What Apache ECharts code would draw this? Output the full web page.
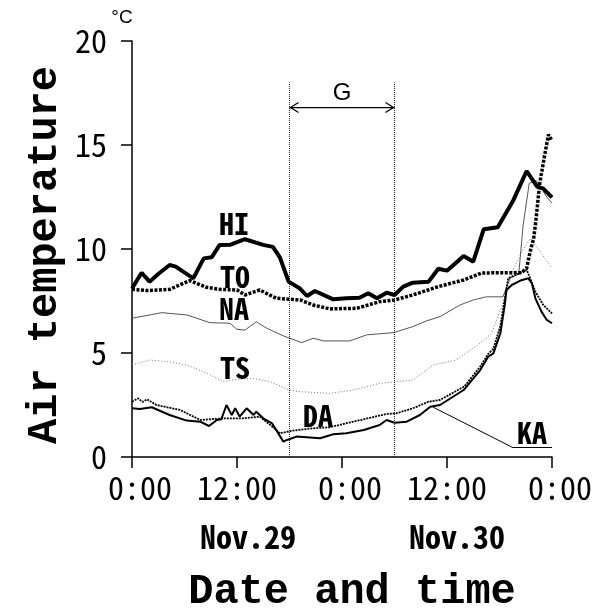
<!DOCTYPE html>
<html>
<head>
<meta charset="utf-8">
<title>Air temperature</title>
<script src="https://cdn.jsdelivr.net/npm/echarts@6/dist/echarts.min.js"></script>
<style>
  html, body { margin: 0; padding: 0; background: #fff; }
  #chart { width: 599px; height: 611px; }
</style>
</head>
<body>
<div id="chart"></div>
<script>
// hours from Nov.29 0:00
var hourTicks = [0, 12, 24, 36, 48];
var tickLabels = [' 0:00', '12:00', ' 0:00', '12:00', ' 0:00'];
var dayLabels = ['Nov.29', 'Nov.30'];
var gPeriod = [18, 30];

// [hour, degC]
var hi = [[0,8.1],[1.1,8.86],[2,8.43],[3,8.8],[4.3,9.23],[5,9.15],[7,8.59],[8.2,9.55],[9.1,9.6],[10,10.19],
  [11.2,10.2],[12.9,10.47],[15,10.2],[16.1,10.1],[16.9,9.6],[17.9,8.43],[19.2,8.1],[20,7.74],[20.9,7.98],
  [23,7.58],[24.5,7.63],[26,7.66],[27,7.87],[28,7.63],[29.1,7.9],[30,7.79],[31,8.19],[32.1,8.38],[33.9,8.43],
  [35,9.05],[36,8.96],[37.9,9.66],[39,9.39],[40.2,10.95],[41.8,11.05],[43.6,12.36],[45.1,13.75],[46.3,13.0],
  [47,12.9],[48,12.48]];
var to = [[0,8.06],[1.7,8.0],[4.3,8.06],[6.6,8.48],[8.5,8.16],[10,8.06],[12,8.03],[12.9,7.79],[14.6,8.03],
  [16.5,7.63],[19.2,7.55],[20.7,7.31],[22.6,7.12],[25.7,7.15],[28.3,7.47],[30,7.55],[32.1,7.79],[35,8.19],
  [37.9,8.51],[40,8.85],[44.5,8.86],[45.1,9.07],[45.5,9.87],[45.9,10.5],[46.1,11.15],[46.6,13.16],[47.2,14.6],
  [47.6,15.5],[48,15.2]];
var na = [[0,6.67],[3.4,6.94],[6.25,6.83],[8.9,6.46],[11.2,6.43],[12,6.14],[12.9,6.1],[14.2,6.5],[15.4,6.19],
  [17.3,5.82],[19.4,5.5],[20.7,5.71],[21.9,5.58],[24.9,5.58],[26.8,5.87],[29.9,5.98],[32.1,6.27],[33.7,6.55],
  [35.2,6.75],[37.5,7.31],[39,7.55],[40.5,7.7],[42.4,7.7],[43.2,8.6],[44.2,8.8],[44.7,11.15],[45.4,13.16],
  [46.2,13.3],[47.4,12.5],[48,12.2]];
var ts = [[0,4.42],[2,4.66],[4.3,4.58],[6.25,4.42],[8.2,4.1],[10.5,3.62],[11.8,3.73],[13.9,3.78],[15.8,3.62],
  [18,3.22],[19.2,3.14],[22.6,3.06],[25.3,3.22],[28.3,3.54],[30.2,3.62],[32.1,3.7],[34.4,4.42],[37,4.66],
  [39.8,5.47],[41.1,5.95],[42.5,7.5],[43.6,9.05],[44.5,9.8],[45.5,10.5],[46.6,9.9],[48,9.07]];
var da = [[0,2.66],[0.7,2.82],[1.2,2.65],[1.7,2.77],[2.8,2.5],[5.5,2.26],[7.8,1.78],[10.5,1.86],[12.7,1.86],
  [14.6,1.94],[16.5,1.3],[16.9,1.14],[18.4,1.27],[20.7,1.38],[22.6,1.43],[25.3,1.7],[29.1,2.07],[30.2,2.1],
  [32.1,2.34],[33.9,2.66],[35.2,2.74],[38,3.4],[39.8,4.35],[40.7,4.95],[41.3,5.2],[42.1,6.3],[42.6,7.6],
  [43,8.6],[44.3,8.83],[45.1,9.0],[45.5,8.6],[46.1,7.95],[47,7.31],[48,6.9]];
var ka = [[0,2.34],[0.9,2.31],[2.25,2.39],[4.3,2.02],[6.25,1.75],[7.8,1.7],[8.8,1.49],[9.7,1.78],[10.2,1.81],
  [10.8,2.5],[11.4,2.02],[11.8,2.34],[12.3,1.94],[13.1,2.34],[13.9,2.02],[14.2,2.18],[15,1.86],[16,1.62],
  [17.3,0.74],[17.7,0.82],[18.8,0.98],[21.5,0.9],[23,1.09],[24.5,1.14],[26.5,1.3],[28.3,1.54],[29.1,1.78],
  [30,1.65],[31.4,1.7],[32.9,2.02],[34.1,2.42],[35.2,2.5],[37.9,3.22],[39.8,4.18],[40.7,4.82],[41.3,4.98],
  [42.1,5.95],[42.6,7.31],[42.8,8.03],[43.4,8.27],[44.5,8.5],[45.3,8.59],[45.7,8.35],[46.1,7.63],[46.8,6.99],
  [47.4,6.59],[48,6.43]];

var MONO = "'Liberation Mono', 'DejaVu Sans Mono', monospace";
var NARROW = "'Noto Sans Mono CJK JP', 'Liberation Mono', monospace";

var chart = echarts.init(document.getElementById('chart'));

function line(name, data, width, type, color, z) {
    return {
        name: name, type: 'line', data: data, symbol: 'none', z: z,
        lineStyle: { width: width, type: type, color: color }
    };
}

var kaSeries = line('KA', ka, 2, 'solid', '#000', 5);
// leader line from KA label to the curve
kaSeries.markLine = {
    silent: true, symbol: 'none', label: { show: false },
    lineStyle: { color: '#000', width: 1, type: 'solid' },
    data: [
        [{ coord: [34.4, 2.4] }, { coord: [43.4, 0.48] }],
        [{ coord: [43.4, 0.48] }, { coord: [48, 0.48] }]
    ]
};
var tsSeries = line('TS', ts, 1, [1, 2], '#777', 2);
tsSeries.markLine = {
    silent: true, symbol: 'none', label: { show: false },
    lineStyle: { color: '#222', width: 1, type: [1, 1] },
    data: [
        [{ coord: [gPeriod[0], 0] }, { coord: [gPeriod[0], 18] }],
        [{ coord: [gPeriod[1], 0] }, { coord: [gPeriod[1], 18] }]
    ]
};

var option = {
    animation: false,
    backgroundColor: '#fff',
    grid: { left: 132, right: 47, top: 41, bottom: 154 },
    xAxis: {
        type: 'value', min: 0, max: 48, interval: 12,
        axisLine: { lineStyle: { color: '#000', width: 1.5 } },
        axisTick: { length: 11, lineStyle: { color: '#000', width: 1.5 } },
        splitLine: { show: false },
        axisLabel: {
            margin: 15, color: '#000', fontFamily: NARROW, fontSize: 32,
            formatter: function (v) { return tickLabels[hourTicks.indexOf(v)]; }
        }
    },
    yAxis: {
        type: 'value', min: 0, max: 20, interval: 5, offset: 8,
        axisLine: { show: true, lineStyle: { color: '#000', width: 1.5 } },
        axisTick: { show: true, length: 11, lineStyle: { color: '#000', width: 1.5 } },
        splitLine: { show: false },
        axisLabel: { margin: 17, color: '#000', fontFamily: NARROW, fontSize: 32 }
    },
    series: [
        tsSeries,
        line('NA', na, 1, 'solid', '#555', 3),
        line('DA', da, 1.8, [2, 1], '#000', 4),
        kaSeries,
        line('TO', to, 3.5, [3, 1.5], '#000', 6),
        line('HI', hi, 4, 'solid', '#000', 7)
    ]
};
chart.setOption(option);

// annotations placed in data coordinates
function px(h, v) { return chart.convertToPixel({ gridIndex: 0 }, [h, v]); }
function label(text, h, v) {
    var p = px(h, v);
    return {
        type: 'text', x: p[0], y: p[1], z: 20,
        style: { text: text, fill: '#000', font: 'bold 30px ' + NARROW, align: 'center', verticalAlign: 'middle' }
    };
}

var a = px(gPeriod[0], 16.8), b = px(gPeriod[1], 16.8);
var graphics = [
    label('HI', 11.66, 11.2),
    label('TO', 11.77, 8.65),
    label('NA', 11.66, 7.12),
    label('TS', 11.77, 4.28),
    label('DA', 21.26, 1.97),
    label('KA', 45.7, 1.15),
    { type: 'line', shape: { x1: a[0], y1: a[1], x2: b[0], y2: b[1] }, style: { stroke: '#000', lineWidth: 1.2 } },
    { type: 'polyline', shape: { points: [[a[0] + 9, a[1] - 5], [a[0] + 1, a[1]], [a[0] + 9, a[1] + 5]] }, style: { stroke: '#000', lineWidth: 1.2, fill: null } },
    { type: 'polyline', shape: { points: [[b[0] - 9, b[1] - 5], [b[0] - 1, b[1]], [b[0] - 9, b[1] + 5]] }, style: { stroke: '#000', lineWidth: 1.2, fill: null } },
    { type: 'text', x: (a[0] + b[0]) / 2, y: a[1] - 14, style: { text: 'G', fill: '#000', font: '24px Liberation Sans, Arial, sans-serif', align: 'center', verticalAlign: 'middle' } },
    { type: 'text', x: 122, y: 18, style: { text: '°C', fill: '#000', font: '19px Liberation Sans, Arial, sans-serif', align: 'center', verticalAlign: 'middle' } },
    { type: 'text', x: 248, y: 537, style: { text: dayLabels[0], fill: '#000', font: 'bold 32px ' + NARROW, align: 'center', verticalAlign: 'middle' } },
    { type: 'text', x: 457, y: 537, style: { text: dayLabels[1], fill: '#000', font: 'bold 32px ' + NARROW, align: 'center', verticalAlign: 'middle' } },
    { type: 'text', x: 352, y: 592, style: { text: 'Date and time', fill: '#000', font: 'bold 42px ' + MONO, align: 'center', verticalAlign: 'middle' } },
    { type: 'text', x: 45, y: 255, rotation: Math.PI / 2, style: { text: 'Air temperature', fill: '#000', font: 'bold 42px ' + MONO, align: 'center', verticalAlign: 'middle' } }
];
chart.setOption({ graphic: graphics });
</script>
</body>
</html>
